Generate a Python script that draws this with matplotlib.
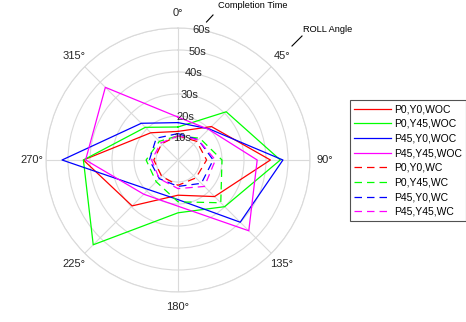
import numpy as np
import matplotlib
matplotlib.use("Agg")
import matplotlib.pyplot as plt
from matplotlib.lines import Line2D

plt.rcParams['font.family'] = ['Liberation Sans', 'DejaVu Sans']

# roll angles (deg) and completion times (s)
angles = [0, 45, 90, 135, 180, 225, 270, 315]
p0_y0_woc = [13, 21.5, 42, 23.5, 16, 29.5, 43, 17.5]
p0_y45_woc = [15, 31, 46.5, 30, 24, 54.5, 43, 21]
p45_y0_woc = [17, 20, 47.7, 40, 18, 19, 52.7, 23.6]
p45_y45_woc = [19.5, 19.7, 36, 45.5, 21, 22, 42, 46.7]
p0_y0_wc = [11, 12, 13, 11.5, 11.5, 10.5, 11, 10.5]
p0_y45_wc = [11, 14, 20, 27.5, 19, 14, 14.5, 12]
p45_y0_wc = [12, 13, 16, 15, 12, 12, 13, 14]
p45_y45_wc = [11, 13, 17, 17, 13, 12, 12, 11]

series = [
    ("P0,Y0,WOC", p0_y0_woc, "#ff0000", "-"),
    ("P0,Y45,WOC", p0_y45_woc, "#00ff00", "-"),
    ("P45,Y0,WOC", p45_y0_woc, "#0000ff", "-"),
    ("P45,Y45,WOC", p45_y45_woc, "#ff00ff", "-"),
    ("P0,Y0,WC", p0_y0_wc, "#ff0000", (0, (6, 4))),
    ("P0,Y45,WC", p0_y45_wc, "#00ff00", (0, (6, 4))),
    ("P45,Y0,WC", p45_y0_wc, "#0000ff", (0, (6, 4))),
    ("P45,Y45,WC", p45_y45_wc, "#ff00ff", (0, (6, 4))),
]

W, H = 466, 322
fig = plt.figure(figsize=(W / 100, H / 100), dpi=100)
cx, cy, R = 178, 160, 132
ax = fig.add_axes([(cx - R) / W, (H - cy - R) / H, 2 * R / W, 2 * R / H],
                  projection='polar')
ax.set_theta_zero_location('N')
ax.set_theta_direction(-1)

theta = np.deg2rad(angles + [angles[0]])
for name, vals, col, ls in series:
    ax.plot(theta, list(vals) + [vals[0]], color=col, linestyle=ls,
            linewidth=0.9, label=name)

ax.set_ylim(0, 60)
rt = [10, 20, 30, 40, 50, 60]
ax.set_yticks(rt)
ax.set_yticklabels([])
for r in rt:
    ax.text(np.deg2rad(10), r, f"{r}s", ha='center', va='center',
            fontsize=8, color='#262626')
ax.set_thetagrids(angles, [f"{a}°" for a in angles], fontsize=8,
                  color='#262626')
ax.tick_params(axis='x', pad=0)
ax.grid(color='#dadada', linewidth=0.8)
ax.spines['polar'].set_color('#dadada')
ax.spines['polar'].set_linewidth(0.8)


def fx(x):
    return x / W


def fy(y):
    return 1 - y / H


# axis captions with short leader lines
fig.add_artist(Line2D([fx(206.5), fx(213)], [fy(22), fy(15)],
                      color='black', linewidth=0.8))
fig.text(fx(218), fy(6), "Completion Time", fontsize=6.7, ha='left', va='center')
fig.add_artist(Line2D([fx(292), fx(302)], [fy(46), fy(36)],
                      color='black', linewidth=0.8))
fig.text(fx(303), fy(30), "ROLL Angle", fontsize=6.7, ha='left', va='center')

leg = fig.legend(loc='upper left', bbox_to_anchor=(fx(350), fy(100)),
                 fontsize=7.5, frameon=True, fancybox=False,
                 borderaxespad=0, handlelength=3.5, handletextpad=0.3,
                 labelspacing=0.45, borderpad=0.4)
leg.get_frame().set_edgecolor('#262626')
leg.get_frame().set_linewidth(0.8)

fig.savefig("out.png", dpi=100)
